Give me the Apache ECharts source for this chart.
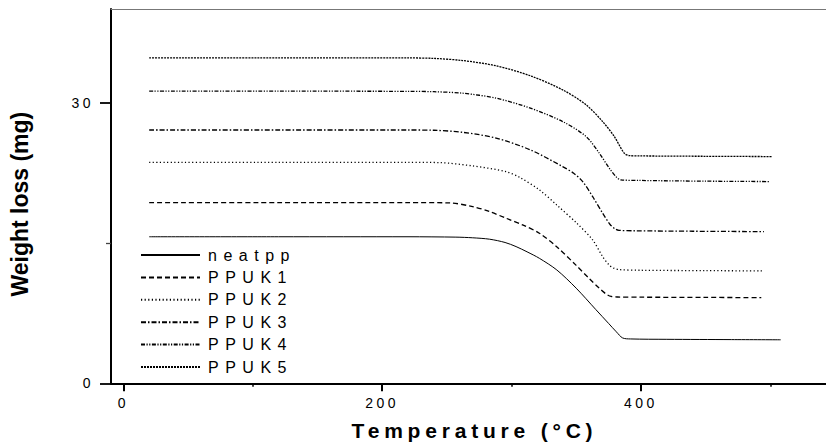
<!DOCTYPE html>
<html>
<head>
<meta charset="utf-8">
<script src="https://cdn.jsdelivr.net/npm/echarts@6/dist/echarts.min.js"></script>
<style>
  html, body { margin: 0; padding: 0; background: #fff; }
  #chart { width: 826px; height: 447px; }
  /* default spaced-out lettering for tick labels */
  #chart svg text { letter-spacing: 3.5px; }
</style>
</head>
<body>
<div id="chart"></div>
<script>
// TGA curves: temperature (°C) against sample weight (mg)
const seriesNames = ['neatpp', 'PPUK1', 'PPUK2', 'PPUK3', 'PPUK4', 'PPUK5'];

const neatppTemp = [20, 120, 220, 257, 270, 283, 295, 303.5, 312, 321.5, 335, 350, 365, 375, 381, 385.8, 392, 420, 470, 508];
const neatppWt   = [15.66, 15.66, 15.66, 15.62, 15.55, 15.40, 15.05, 14.61, 14.05, 13.36, 12.11, 10.16, 7.9, 6.4, 5.5, 4.85, 4.74, 4.70, 4.67, 4.65];

const ppuk1Temp = [20, 120, 220, 252, 270, 283, 295.8, 309, 321.5, 334.9, 350, 360, 367.8, 373, 377, 382, 400, 450, 493];
const ppuk1Wt   = [19.31, 19.31, 19.31, 19.28, 18.88, 18.35, 17.64, 16.9, 16.04, 14.60, 12.6, 11.2, 10.16, 9.55, 9.28, 9.22, 9.2, 9.18, 9.15];

const ppuk2Temp = [20, 120, 220, 245, 270, 295.8, 306.4, 321.5, 334.9, 350.4, 362.7, 370.4, 375.5, 379, 383.2, 400, 450, 494];
const ppuk2Wt   = [23.62, 23.62, 23.62, 23.58, 23.23, 22.62, 22.0, 20.67, 19.06, 17.11, 15.32, 13.54, 12.64, 12.3, 12.15, 12.08, 12.04, 12.01];

const ppuk3Temp = [20, 120, 220, 240, 262.3, 288.1, 314.6, 339.5, 348, 355, 362.7, 370.4, 376, 380, 383, 395, 440, 495];
const ppuk3Wt   = [27.07, 27.07, 27.07, 27.04, 26.82, 26.20, 24.94, 23.16, 22.45, 21.55, 19.95, 18.18, 17.0, 16.5, 16.35, 16.3, 16.25, 16.21];

const ppuk4Temp = [20, 120, 220, 240, 262.3, 288.1, 314.6, 339.5, 357.6, 367.8, 375.5, 380.7, 384.5, 398.7, 450, 499];
const ppuk4Wt   = [31.22, 31.22, 31.2, 31.16, 31.00, 30.47, 29.40, 27.97, 26.37, 24.59, 22.99, 22.09, 21.74, 21.68, 21.6, 21.56];

const ppuk5Temp = [20, 120, 220, 240, 262.3, 288.1, 314.6, 339.5, 357.6, 370.4, 379.4, 387.1, 391, 398.7, 450, 501];
const ppuk5Wt   = [34.77, 34.77, 34.77, 34.72, 34.49, 33.93, 32.86, 31.36, 29.76, 27.97, 26.37, 24.59, 24.33, 24.30, 24.26, 24.23];

const xTickValues = [0, 200, 400];
const xMinorValues = [100, 300, 500];
const yTickValues = [0, 30];
const yMinorValues = [15];

const xTitle = 'Temperature (°C)';
const yTitle = 'Weight loss (mg)';

const curves = [
  [neatppTemp, neatppWt],
  [ppuk1Temp, ppuk1Wt],
  [ppuk2Temp, ppuk2Wt],
  [ppuk3Temp, ppuk3Wt],
  [ppuk4Temp, ppuk4Wt],
  [ppuk5Temp, ppuk5Wt]
];

const lineStyles = [
  { type: 'solid', width: 1 },
  { type: [5, 3], width: 1.3 },
  { type: [1.2, 2.4], width: 1.3 },
  { type: [5, 2, 1.5, 2], width: 1.3 },
  { type: [4, 1.5, 1.2, 1.5, 1.2, 1.5], width: 1.3 },
  { type: [2, 1], width: 1.3 }
];

const FONT = 'Liberation Sans, Arial, sans-serif';
const X_MIN = -9.5, X_MAX = 543, Y_MIN = 0, Y_MAX = 40;

const container = document.getElementById('chart');
const chart = echarts.init(container, null, { renderer: 'svg' });

const series = seriesNames.map((name, i) => ({
  name: name,
  type: 'line',
  xAxisIndex: 0,
  yAxisIndex: 0,
  symbol: 'none',
  smooth: 0.3,
  lineStyle: Object.assign({ color: '#000' }, lineStyles[i]),
  itemStyle: { color: '#000' },
  data: curves[i][0].map((t, k) => [t, curves[i][1][k]])
}));

// extra axes that only carry short ticks or the top frame line
function plainAxis(extra) {
  return Object.assign({
    type: 'value',
    min: 0, max: 1,
    axisLine: { show: false, onZero: false },
    axisTick: { show: false },
    axisLabel: { show: false },
    splitLine: { show: false }
  }, extra);
}

// per-text letter spacing for the svg output
function spaceLetters() {
  container.querySelectorAll('svg text').forEach(function (el) {
    const s = el.textContent;
    let ls = 3.5;
    if (seriesNames.indexOf(s) >= 0) ls = 6.5;
    else if (s === xTitle) ls = 4.8;
    else if (s === yTitle) ls = 0;
    el.style.letterSpacing = ls + 'px';
  });
}
chart.on('finished', spaceLetters);

chart.setOption({
  animation: false,
  backgroundColor: '#fff',
  textStyle: { fontFamily: FONT, color: '#000' },
  grid: { left: 111, top: 9, right: -1, bottom: 63.7, show: false },
  legend: {
    data: seriesNames,
    orient: 'vertical',
    left: 140,
    top: 247,
    padding: 0,
    itemWidth: 59,
    itemHeight: 14,
    itemGap: 6.4,
    selectedMode: false,
    itemStyle: { color: 'rgba(0,0,0,0)', borderColor: 'rgba(0,0,0,0)', borderWidth: 0, opacity: 0 },
    textStyle: { fontFamily: FONT, fontSize: 16, color: '#000', lineHeight: 16, padding: [0, 0, 0, 3] }
  },
  xAxis: [
    {
      type: 'value',
      min: X_MIN, max: X_MAX,
      position: 'bottom',
      name: xTitle,
      nameLocation: 'middle',
      nameGap: 37,
      nameTextStyle: { fontFamily: FONT, fontSize: 21, fontWeight: 'bold', color: '#000', padding: [0, 0, 0, 12] },
      axisLine: { show: true, onZero: false, lineStyle: { color: '#000', width: 2 } },
      axisTick: { show: true, customValues: xTickValues, length: 8, lineStyle: { color: '#000', width: 2 } },
      axisLabel: { customValues: xTickValues, margin: 13, fontSize: 14, color: '#000', fontFamily: FONT },
      splitLine: { show: false }
    },
    plainAxis({
      min: X_MIN, max: X_MAX,
      position: 'bottom',
      axisTick: { show: true, customValues: xMinorValues, length: 3.5, lineStyle: { color: '#000', width: 1.5 } }
    }),
    plainAxis({
      position: 'top',
      axisLine: { show: true, onZero: false, lineStyle: { color: '#777', width: 1 } }
    })
  ],
  yAxis: [
    {
      type: 'value',
      min: Y_MIN, max: Y_MAX,
      position: 'left',
      name: yTitle,
      nameLocation: 'middle',
      nameGap: 80,
      nameRotate: 90,
      nameTextStyle: { fontFamily: FONT, fontSize: 23, fontWeight: 'bold', color: '#000', padding: [0, 16, 0, 0] },
      axisLine: { show: true, onZero: false, lineStyle: { color: '#000', width: 2 } },
      axisTick: { show: true, customValues: yTickValues, length: 11, lineStyle: { color: '#000', width: 1.8 } },
      axisLabel: { customValues: yTickValues, margin: 17, fontSize: 14, color: '#000', fontFamily: FONT },
      splitLine: { show: false }
    },
    plainAxis({
      min: Y_MIN, max: Y_MAX,
      position: 'left',
      axisTick: { show: true, customValues: yMinorValues, length: 5, lineStyle: { color: '#444', width: 1.3 } }
    })
  ],
  series: series
});
spaceLetters();
</script>
</body>
</html>
